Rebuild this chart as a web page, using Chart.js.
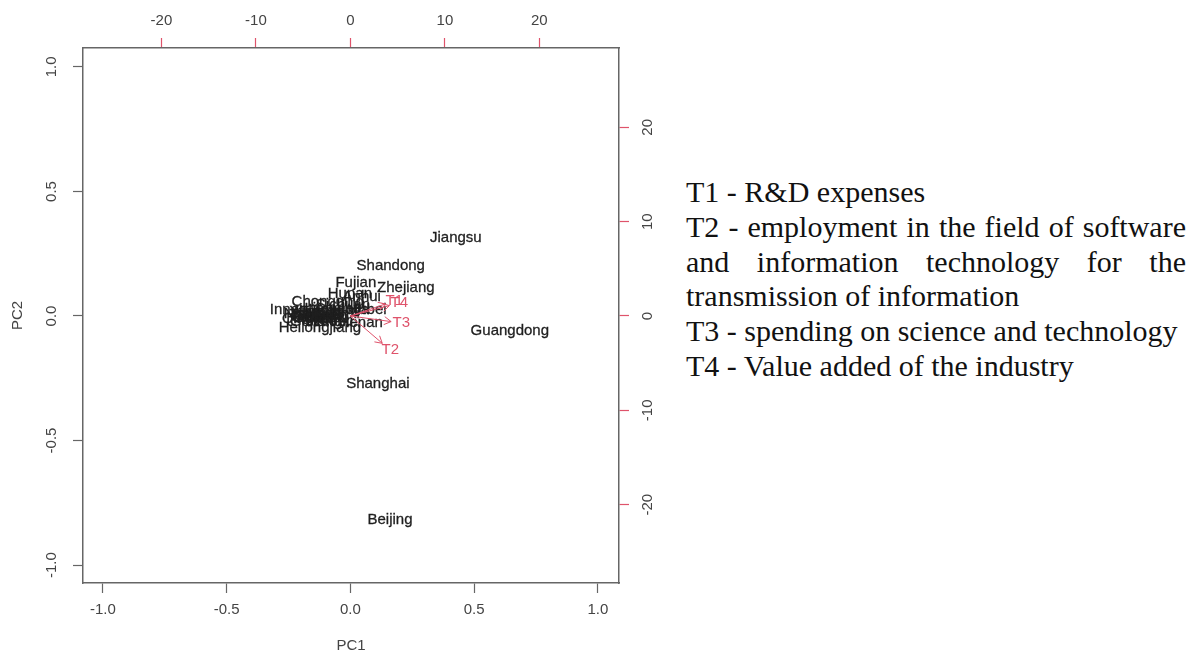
<!DOCTYPE html>
<html>
<head>
<meta charset="utf-8">
<script src="https://cdn.jsdelivr.net/npm/chart.js@4"></script>
<style>
html,body{margin:0;padding:0;background:#fff;}
#wrap{position:relative;width:1200px;height:657px;overflow:hidden;}
#chartBox{position:absolute;left:0;top:0;width:660px;height:657px;}
#notes{position:absolute;left:686px;top:175px;width:500px;font-family:"Liberation Serif","Times New Roman",serif;font-size:30px;line-height:34.8px;color:#111;}
#notes div{white-space:nowrap;}
#notes .j{text-align:justify;text-align-last:justify;}
</style>
</head>
<body>
<div id="wrap">
  <div id="chartBox"><canvas id="BiplotCanvas" width="660" height="657"></canvas></div>
  <div id="notes">
    <div>T1 - R&amp;D expenses</div>
    <div class="j">T2 - employment in the field of software</div>
    <div class="j">and information technology for the</div>
    <div>transmission of information</div>
    <div>T3 - spending on science and technology</div>
    <div>T4 - Value added of the industry</div>
  </div>
</div>
<script>
// scores (PC1 / PC2)
const provinces = ['Beijing','Shanghai','Jiangsu','Guangdong','Shandong','Zhejiang','Fujian',
  'Hunan','Anhui','Hubei','Henan','Chongqing','Inner Mongolia','Heilongjiang',
  'Tianjin','Hebei','Shanxi','Liaoning','Jilin','Jiangxi','Guangxi','Hainan','Sichuan',
  'Guizhou','Yunnan','Tibet','Shaanxi','Gansu','Qinghai','Ningxia','Xinjiang']
const pc1 = [0.160, 0.111, 0.426, 0.644, 0.163, 0.224, 0.022,
  -0.002, 0.046, 0.067, 0.042, -0.091, -0.125, -0.123,
  -0.115, -0.103, -0.131, -0.071, -0.143, -0.083, -0.123, -0.163, -0.030,
  -0.131, -0.115, -0.180, -0.071, -0.155, -0.172, -0.168, -0.139]
const pc2 = [-0.819, -0.273, 0.313, -0.060, 0.201, 0.112, 0.133,
  0.088, 0.076, 0.024, -0.028, 0.056, 0.024, -0.048,
  0.016, -0.008, 0.000, 0.028, -0.016, -0.024, -0.008, -0.008, 0.044,
  -0.024, 0.000, 0.004, 0.008, -0.004, -0.012, 0.008, 0.016]

// loadings (top / right axes)
const vars = ['T1','T2','T3','T4']
const load1 = [4.65, 4.22, 5.39, 5.17]
const load2 = [1.60, -3.62, -0.74, 1.38]

const pcTicks = [-1, -0.5, 0, 0.5, 1]
const loadTicks = [-20, -10, 0, 10, 20]

const textColor = '#1f1f1f'
const axisColor = '#666'
const arrowColor = '#DF536B'
const sansFont = '"Liberation Sans", Arial, sans-serif'

const biplotText = {
  id: 'biplotText',
  afterDatasetsDraw(chart) {
    const ctx = chart.ctx
    const x2 = chart.scales.x2
    const y2 = chart.scales.y2
    ctx.save()
    ctx.font = '15px ' + sansFont
    ctx.textAlign = 'center'
    ctx.textBaseline = 'middle'
    ctx.fillStyle = textColor
    ctx.strokeStyle = textColor
    ctx.lineWidth = 0.3
    chart.getDatasetMeta(0).data.forEach((pt, i) => {
      ctx.fillText(provinces[i], pt.x, pt.y)
      ctx.strokeText(provinces[i], pt.x, pt.y)
    })
    // arrows for the variables
    const ox = x2.getPixelForValue(0)
    const oy = y2.getPixelForValue(0)
    ctx.strokeStyle = arrowColor
    ctx.fillStyle = arrowColor
    ctx.lineWidth = 1
    chart.getDatasetMeta(1).data.forEach((pt, i) => {
      const a = Math.atan2(pt.y - oy, pt.x - ox)
      const h = 8
      ctx.beginPath()
      ctx.moveTo(ox, oy)
      ctx.lineTo(pt.x, pt.y)
      ctx.moveTo(pt.x - h * Math.cos(a - Math.PI / 6), pt.y - h * Math.sin(a - Math.PI / 6))
      ctx.lineTo(pt.x, pt.y)
      ctx.lineTo(pt.x - h * Math.cos(a + Math.PI / 6), pt.y - h * Math.sin(a + Math.PI / 6))
      ctx.stroke()
      ctx.fillText(vars[i], x2.getPixelForValue(load1[i]), y2.getPixelForValue(load2[i]))
    })
    ctx.restore()
  }
}

function axis(position, min, max, tickList, tickCol, size, pad, rotate, fmt) {
  const horiz = position === 'top' || position === 'bottom'
  return {
    type: 'linear',
    position: position,
    min: min,
    max: max,
    afterBuildTicks: s => { s.ticks = tickList.map(v => ({ value: v })) },
    afterFit: s => { if (horiz) s.height = size; else s.width = size },
    grid: { drawOnChartArea: false, drawTicks: true, tickLength: 10, tickColor: tickCol, tickWidth: 1.2 },
    border: { display: true, color: axisColor, width: 1.5 },
    ticks: {
      autoSkip: false,
      padding: pad,
      color: '#444',
      font: { family: sansFont, size: 15 },
      minRotation: rotate,
      maxRotation: rotate,
      crossAlign: horiz ? 'near' : 'center',
      callback: fmt
    }
  }
}

function initChart() {
  const ctx = document.getElementById('BiplotCanvas').getContext('2d')
  const xOpt = axis('bottom', -1.08, 1.085, pcTicks, axisColor, 74, 8, 0, v => v.toFixed(1))
  xOpt.title = { display: true, text: 'PC1', color: '#444', font: { family: sansFont, size: 15 }, padding: { top: 0, bottom: 2 } }
  const yOpt = axis('left', -1.072, 1.076, pcTicks, axisColor, 83, 8.5, 90, v => v.toFixed(1))
  yOpt.title = { display: true, text: 'PC2', color: '#444', font: { family: sansFont, size: 15 }, padding: { top: 9, bottom: 0 } }
  const x2Opt = axis('top', -1.08 * 26.2, 1.085 * 26.2, loadTicks, arrowColor, 48, 8, 0, v => String(v))
  const y2Opt = axis('right', -1.072 * 26.4, 1.076 * 26.4, loadTicks, arrowColor, 41, 8, 90, v => String(v))

  new Chart(ctx, {
    type: 'scatter',
    data: {
      datasets: [{
        label: 'scores',
        data: provinces.map((p, i) => ({ x: pc1[i], y: pc2[i] })),
        xAxisID: 'x',
        yAxisID: 'y',
        pointRadius: 0
      }, {
        label: 'loadings',
        data: vars.map((v, i) => ({ x: 0.8 * load1[i], y: 0.8 * load2[i] })),
        xAxisID: 'x2',
        yAxisID: 'y2',
        pointRadius: 0
      }]
    },
    options: {
      responsive: false,
      animation: false,
      devicePixelRatio: 1,
      layout: { padding: 0 },
      scales: { x: xOpt, y: yOpt, x2: x2Opt, y2: y2Opt },
      plugins: { legend: { display: false }, tooltip: { enabled: false } }
    },
    plugins: [biplotText]
  })
}

initChart()
</script>
</body>
</html>
